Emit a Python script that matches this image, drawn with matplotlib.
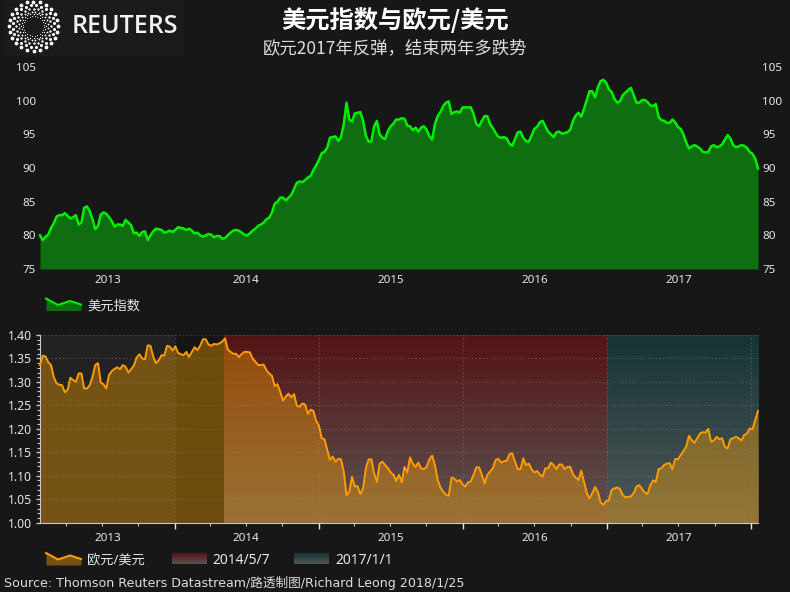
import numpy as np
import pandas as pd
import matplotlib
matplotlib.use("Agg")
import matplotlib.pyplot as plt
import matplotlib.dates as mdates

plt.rcParams['font.family'] = ['Noto Sans', 'Noto Sans CJK SC', 'DejaVu Sans']

W, H = 790, 592
BG = '#171717'
TXT = '#e2e8ee'

# weekly closes
dates = pd.date_range('2013-01-25', periods=261, freq='7D')

usd_index = [
    80.0, 79.3, 79.8, 80.1, 81.1, 81.8, 82.8, 83.0, 83.0, 83.3, 82.9, 82.5, 82.7, 83.0, 81.6, 81.9, 84.1, 84.3, 83.6, 82.4,
    80.9, 81.4, 83.1, 83.4, 83.2, 82.7, 82.1, 81.3, 81.6, 81.6, 81.4, 82.3, 81.9, 81.5, 80.3, 80.4, 79.9, 80.5, 80.6, 79.3,
    80.0, 80.6, 81.0, 80.9, 80.8, 80.4, 80.5, 80.7, 80.5, 80.8, 81.2, 81.1, 81.0, 80.8, 81.0, 80.7, 80.3, 80.4, 80.0, 79.8,
    80.0, 80.2, 80.1, 79.7, 79.9, 79.9, 79.5, 79.6, 80.0, 80.4, 80.7, 80.8, 80.7, 80.4, 80.1, 80.0, 80.3, 80.7, 81.0, 81.4,
    81.6, 81.9, 82.4, 82.6, 83.4, 84.7, 85.0, 85.6, 85.6, 85.2, 85.6, 86.0, 86.9, 87.8, 88.0, 87.9, 88.2, 88.6, 88.8, 89.7,
    90.4, 91.2, 92.2, 92.4, 93.0, 94.5, 94.6, 94.7, 94.0, 94.6, 96.5, 99.7, 97.2, 96.9, 98.1, 98.2, 98.3, 97.0, 94.8, 93.9,
    94.0, 96.2, 97.0, 95.0, 94.5, 94.3, 95.5, 96.2, 96.6, 97.2, 97.2, 97.4, 97.3, 96.3, 96.2, 95.6, 96.0, 95.4, 96.0, 96.2,
    95.7, 94.7, 94.2, 96.5, 97.7, 98.3, 99.2, 99.7, 99.9, 98.0, 98.3, 98.4, 98.2, 99.0, 99.0, 99.0, 99.0, 98.0, 96.5, 96.2,
    97.0, 97.7, 97.7, 96.5, 95.9, 95.2, 94.6, 94.5, 94.6, 94.4, 93.6, 93.3, 94.3, 95.3, 95.4, 94.5, 94.0, 93.9, 94.8, 95.8,
    96.1, 96.8, 97.0, 96.2, 95.4, 95.0, 94.6, 95.3, 95.4, 95.1, 95.2, 95.3, 95.7, 97.0, 97.8, 98.2, 97.6, 98.8, 100.1, 101.4,
    101.4, 100.5, 102.0, 102.9, 103.1, 102.7, 101.7, 101.3, 100.3, 99.7, 99.9, 100.8, 101.2, 101.6, 101.9, 100.8, 99.7, 99.7, 100.1, 100.1,
    99.8, 99.3, 99.2, 99.5, 97.6, 97.1, 97.0, 96.7, 96.7, 97.2, 96.8, 96.1, 95.8, 95.0, 93.8, 92.9, 93.2, 93.4, 93.2, 92.9,
    92.4, 92.3, 92.4, 93.2, 93.4, 93.1, 93.2, 93.5, 94.2, 94.9, 94.4, 93.4, 93.1, 93.2, 93.4, 93.3, 93.0, 92.4, 92.1, 91.4,
    89.9,
]

eur_usd = [
    1.336, 1.356, 1.354, 1.342, 1.336, 1.310, 1.297, 1.294, 1.293, 1.278, 1.283, 1.309, 1.304, 1.300, 1.318, 1.318, 1.286, 1.286, 1.293, 1.311,
    1.336, 1.340, 1.299, 1.295, 1.286, 1.315, 1.323, 1.328, 1.331, 1.327, 1.336, 1.332, 1.320, 1.327, 1.335, 1.352, 1.359, 1.350, 1.348, 1.378,
    1.377, 1.354, 1.340, 1.346, 1.357, 1.356, 1.377, 1.375, 1.367, 1.376, 1.362, 1.359, 1.357, 1.364, 1.353, 1.364, 1.374, 1.368, 1.377, 1.391,
    1.391, 1.380, 1.377, 1.381, 1.380, 1.382, 1.386, 1.393, 1.369, 1.364, 1.360, 1.360, 1.353, 1.359, 1.364, 1.364, 1.363, 1.350, 1.343, 1.336,
    1.336, 1.337, 1.325, 1.318, 1.313, 1.291, 1.295, 1.279, 1.260, 1.269, 1.275, 1.267, 1.274, 1.249, 1.247, 1.254, 1.252, 1.232, 1.241, 1.238,
    1.217, 1.207, 1.180, 1.178, 1.155, 1.134, 1.141, 1.130, 1.136, 1.135, 1.109, 1.058, 1.066, 1.098, 1.077, 1.078, 1.061, 1.073, 1.116, 1.135,
    1.135, 1.105, 1.087, 1.126, 1.130, 1.123, 1.116, 1.107, 1.102, 1.089, 1.102, 1.086, 1.119, 1.107, 1.139, 1.126, 1.119, 1.128, 1.116, 1.114,
    1.119, 1.135, 1.143, 1.123, 1.092, 1.075, 1.066, 1.060, 1.057, 1.096, 1.094, 1.088, 1.091, 1.082, 1.077, 1.086, 1.088, 1.102, 1.118, 1.118,
    1.102, 1.084, 1.102, 1.109, 1.116, 1.134, 1.136, 1.128, 1.131, 1.132, 1.146, 1.148, 1.130, 1.114, 1.114, 1.137, 1.123, 1.126, 1.114, 1.107,
    1.110, 1.103, 1.098, 1.116, 1.116, 1.128, 1.123, 1.114, 1.124, 1.124, 1.114, 1.119, 1.119, 1.103, 1.096, 1.091, 1.111, 1.087, 1.063, 1.052,
    1.063, 1.076, 1.066, 1.043, 1.038, 1.046, 1.048, 1.070, 1.073, 1.075, 1.072, 1.059, 1.054, 1.055, 1.056, 1.063, 1.077, 1.080, 1.072, 1.064,
    1.061, 1.080, 1.090, 1.087, 1.114, 1.116, 1.123, 1.126, 1.127, 1.114, 1.136, 1.135, 1.144, 1.153, 1.162, 1.185, 1.176, 1.170, 1.180, 1.190,
    1.193, 1.192, 1.200, 1.173, 1.175, 1.183, 1.178, 1.180, 1.162, 1.158, 1.178, 1.180, 1.183, 1.180, 1.175, 1.187, 1.190, 1.201, 1.199, 1.219,
    1.238,
]

usd_ticks = [75, 80, 85, 90, 95, 100, 105]
eur_ticks = [1.00, 1.05, 1.10, 1.15, 1.20, 1.25, 1.30, 1.35, 1.40]
year_labels = ['2013', '2014', '2015', '2016', '2017']
year_label_dates = pd.to_datetime(['2013-07-16', '2014-07-02', '2015-07-02', '2016-07-02', '2017-07-02'])
year_starts = pd.to_datetime(['2014-01-01', '2015-01-01', '2016-01-01', '2017-01-01', '2018-01-01'])

shade_start_1 = pd.Timestamp('2014-05-07')
shade_start_2 = pd.Timestamp('2017-01-01')


def rect(x0, y0, x1, y1):
    # pixel box (y from the top) to figure fractions
    return [x0 / W, 1 - y1 / H, (x1 - x0) / W, (y1 - y0) / H]


def label(x, y, s, **kw):
    kw.setdefault('color', TXT)
    kw.setdefault('va', 'center')
    fig.text(x / W, 1 - y / H, s, **kw)


def gradient(ax, c_top, c_bottom, extent):
    top = np.array(matplotlib.colors.to_rgb(c_top))
    bottom = np.array(matplotlib.colors.to_rgb(c_bottom))
    t = np.linspace(0, 1, 128)[:, None, None]
    ax.imshow(top * (1 - t) + bottom * t, extent=extent, aspect='auto', zorder=0, interpolation='bilinear')


def line_swatch(x0, y0, line_c, fill_c):
    sw = fig.add_axes(rect(x0, y0, x0 + 35, y0 + 13))
    sw.set_xlim(0, 35)
    sw.set_ylim(13, 0)
    sw.axis('off')
    xs = [0, 12, 24, 35]
    ys = [1, 7.5, 3.5, 7]
    sw.fill_between(xs, ys, 13, color=fill_c, lw=0)
    sw.plot(xs, ys, color=line_c, lw=1.5, clip_on=False)


def grad_swatch(x0, y0, c_top, c_bottom):
    sw = fig.add_axes(rect(x0, y0, x0 + 35, y0 + 11))
    sw.axis('off')
    gradient(sw, c_top, c_bottom, [0, 1, 0, 1])


fig = plt.figure(figsize=(W / 100, H / 100), dpi=100, facecolor=BG)

# logo
logo = fig.add_axes(rect(4, 0, 185, 57))
logo.set_xlim(4, 185)
logo.set_ylim(57, 0)
logo.set_facecolor('#1b1b1d')
logo.set_xticks([])
logo.set_yticks([])
for s in logo.spines.values():
    s.set_visible(False)
rings = [(24.5, 3.8), (20.8, 3.1), (17.4, 2.4), (14.6, 1.8), (12.2, 1.3), (10.2, 0.9)]
for i, (r, d) in enumerate(rings):
    a = np.linspace(0, 2 * np.pi, 24, endpoint=False) + (i % 2) * np.pi / 24
    logo.scatter(33.5 + r * np.cos(a), 26 + r * np.sin(a), s=(d * 0.72) ** 2, color='white', lw=0)
logo.text(72, 26.5, 'REUTERS', color='#f2f2f2', fontsize=18, family='Open Sans', fontweight='semibold', va='center', ha='left')

label(395, 20, '美元指数与欧元/美元', color='white', fontsize=17.5, fontweight='bold', ha='center',
      family=['Noto Sans CJK SC', 'DejaVu Sans'])
label(395, 48, '欧元2017年反弹，结束两年多跌势', color='#d8dee2', fontsize=12.5, ha='center',
      family=['Noto Sans CJK SC', 'DejaVu Sans'])

# top panel
ax1 = fig.add_axes(rect(40, 67, 758, 269))
ax1.set_facecolor(BG)
ax1.fill_between(dates, usd_index, 75, color='#0f6e0f', lw=0)
ax1.plot(dates, usd_index, color='#00f000', lw=1.8, clip_on=False)
ax1.set_xlim(dates[0], dates[-1])
ax1.set_ylim(75, 105)
ax1.set_yticks(usd_ticks)
ax1.set_xticks(year_label_dates)
ax1.set_xticklabels(year_labels)
ax1.tick_params(axis='x', length=0, colors=TXT, labelsize=8.4, pad=4)
ax1.tick_params(axis='y', length=0, colors=TXT, labelsize=8.4, pad=3, labelright=True)
for s in ax1.spines.values():
    s.set_visible(False)

line_swatch(46, 297.5, '#00f000', '#0f6e0f')
label(87, 306, '美元指数', fontsize=9.5)

# bottom panel
ax2 = fig.add_axes(rect(40, 335, 758, 522.7))
ax2.set_facecolor(BG)
d0, d1, s1, s2, y18 = [mdates.date2num(d) for d in (dates[0], dates[-1], shade_start_1, shade_start_2, year_starts[0])]
ax2.axvspan(d0, y18, color='#222222', lw=0, zorder=0)
ax2.axvspan(y18, s1, color='#151515', lw=0, zorder=0)
gradient(ax2, '#541414', '#5c5454', [s1, s2, 1.0, 1.4])
gradient(ax2, '#163434', '#52585a', [s2, d1, 1.0, 1.4])
ax2.fill_between(dates, eur_usd, 1.0, color='#ffa500', alpha=0.38, lw=0, zorder=1)
ax2.plot(dates, eur_usd, color='#ff9c00', lw=1.4, zorder=3, clip_on=False)
ax2.set_xlim(d0, d1)
ax2.set_ylim(1.0, 1.4)
ax2.set_yticks(eur_ticks)
ax2.set_yticklabels(['%.2f' % v for v in eur_ticks])
ax2.set_yticks(np.arange(1.0, 1.4001, 0.01), minor=True)
ax2.set_xticks(year_starts)
ax2.set_xticklabels([])
ax2.xaxis.set_minor_locator(mdates.MonthLocator(bymonth=[1, 4, 7, 10]))
ax2.grid(True, which='major', color='#8a8a8a', alpha=0.45, lw=0.9, ls=(0, (1, 2)), zorder=2)
ax2.set_axisbelow(False)
ax2.tick_params(axis='y', which='major', length=3, width=1, color='#c8c8c8', labelcolor=TXT, labelsize=8.8, pad=2.5)
ax2.tick_params(axis='y', which='minor', length=2, width=0.8, color='#c8c8c8')
ax2.tick_params(axis='x', which='major', length=4, width=1, color='#e8e8e8')
ax2.tick_params(axis='x', which='minor', length=2, width=0.8, color='#c8c8c8')
for k in ('top', 'right'):
    ax2.spines[k].set_visible(False)
ax2.spines['left'].set_color('#c8c8c8')
ax2.spines['bottom'].set_color('#c8c8c8')
for d, s in zip(year_label_dates, year_labels):
    ax2.annotate(s, (mdates.date2num(d), 1.0), xytext=(0, -11.5), textcoords='offset points', ha='center', va='center',
                 color=TXT, fontsize=8.4, annotation_clip=False)

line_swatch(46, 552, '#ff9c00', '#75520f')
label(87, 560, '欧元/美元', fontsize=9.5)
grad_swatch(172, 553, '#541414', '#5c5454')
label(212, 560, '2014/5/7', fontsize=10)
grad_swatch(294, 553, '#163434', '#52585a')
label(335, 560, '2017/1/1', fontsize=10)

label(4, 583, 'Source: Thomson Reuters Datastream/路透制图/Richard Leong 2018/1/25', color='#dddddd', fontsize=9.1,
      family=['DejaVu Sans', 'Noto Sans CJK SC'])

fig.savefig('out.png', dpi=100, facecolor=BG)
